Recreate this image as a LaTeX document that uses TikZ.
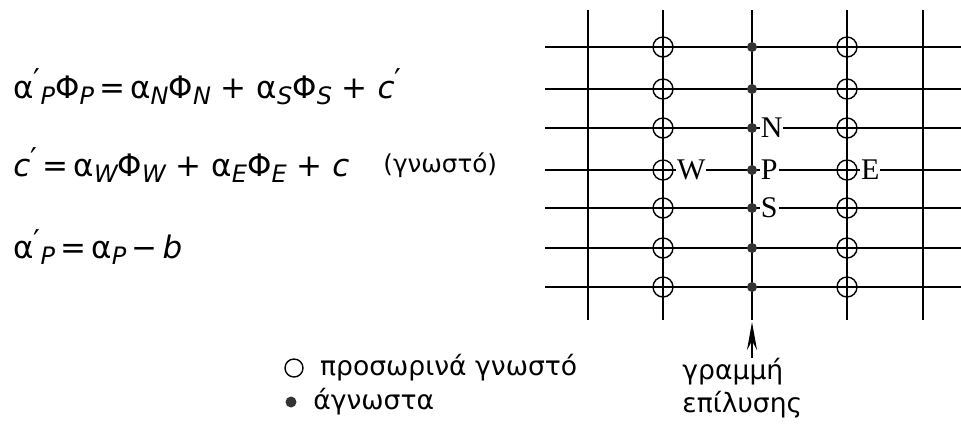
\documentclass[tikz,border=0pt]{standalone}
\usepackage{fontspec}
\setmainfont{DejaVu Sans}
\newfontfamily\gridfont{Liberation Serif}
\usetikzlibrary{arrows.meta, positioning}

\newcommand{\lo}[1]{\raisebox{-0.35ex}{\fontsize{12}{12}\selectfont\itshape #1}}
\newcommand{\pr}{\raisebox{0.45ex}{\fontsize{15}{15}\selectfont ′}}

\begin{document}
\begin{tikzpicture}[
    x=0.5pt, y=-0.5pt,
    eqn/.style={anchor=west, inner sep=0pt, font=\fontsize{15.5}{18}\selectfont},
    gridline/.style={line width=1pt, black},
    known/.style={circle, draw, line width=0.7pt, minimum size=10pt, inner sep=0pt},
    unknown/.style={circle, fill=black!80, minimum size=5pt, inner sep=0pt},
    tag/.style={fill=white, inner sep=0.5pt, font=\gridfont\fontsize{15}{15}\selectfont},
    legend/.style={anchor=west, inner sep=0pt, font=\fontsize{13.3}{16.5}\selectfont},
]
\useasboundingbox (0,0) rectangle (961,425);

% equations
\node[eqn] (eq1) at (13,87)
    {α\pr\lo{P}Φ\lo{P}\,=\,α\lo{N}Φ\lo{N} + α\lo{S}Φ\lo{S} + \textit{c}\pr};
\node[eqn] (eq2) at (13,165)
    {\textit{c}\pr\,=\,α\lo{W}Φ\lo{W} + α\lo{E}Φ\lo{E} + \textit{c}};
\node[legend, font=\fontsize{12.3}{15}\selectfont] (eq2note) at (383,165) {(γνωστό)};
\node[eqn] (eq3) at (13,247)
    {α\pr\lo{P}\,=\,α\lo{P}\,−\,\textit{b}};

% grid
\foreach \x in {588,663,752,847,923}
    \draw[gridline] (\x,10) -- (\x,320);
\foreach \y in {47,89,128,170,208,248,287}
    \draw[gridline] (545,\y) -- (961,\y);

% points
\foreach \y [count=\i] in {47,89,128,170,208,248,287} {
    \node[known] (w\i) at (663,\y) {};
    \node[unknown] (p\i) at (752,\y) {};
    \node[known] (e\i) at (847,\y) {};
}

% labels
\node[tag, right=1pt of p3] (lN) {N};
\node[tag, right=1pt of p4] (lP) {P};
\node[tag, right=1pt of p5] (lS) {S};
\node[tag, right=1pt of w4] (lW) {W};
\node[tag, right=1pt of e4] (lE) {E};

% solution line
\coordinate (lineend) at (752,322);
\node[legend, anchor=north west, align=left] (solve) at (682,358)
    {γραμμή\\επίλυσης};
\draw[-{Stealth[length=14pt, width=5pt]}, line width=0.8pt]
    (solve.north -| lineend) -- (lineend);

% legend
\node[known, minimum size=9pt] (mk1) at (294,368) {};
\node[legend, right=8pt of mk1] (lg1) {προσωρινά γνωστό};
\node[unknown, minimum size=5.5pt] (mk2) at (291,402) {};
\node[legend, right=8pt of mk2] (lg2) {άγνωστα};

\end{tikzpicture}
\end{document}
